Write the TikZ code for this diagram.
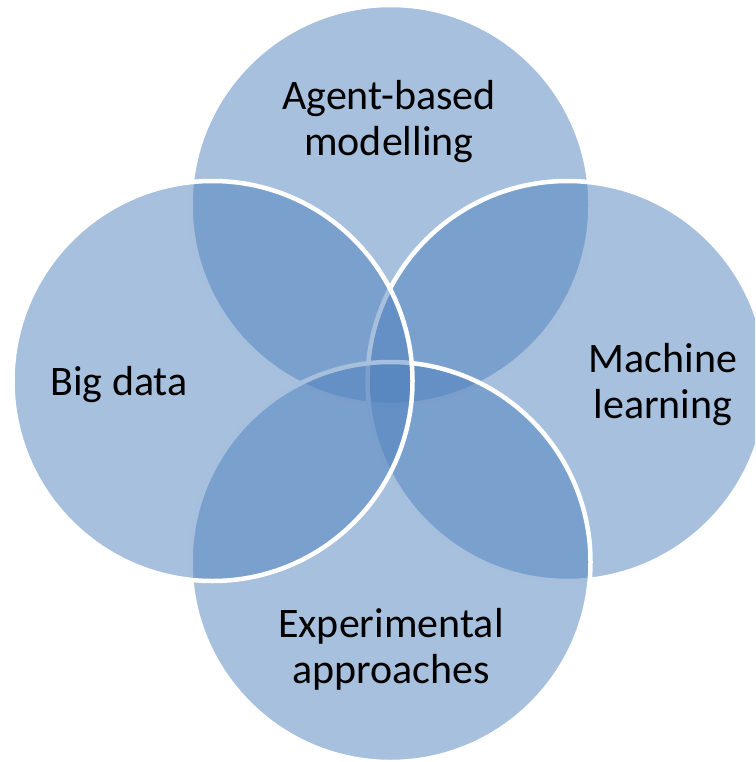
\documentclass[tikz,border=0pt]{standalone}
\usepackage{fontspec}
\setmainfont{Carlito}
\definecolor{vennblue}{HTML}{4F81BD}
\begin{document}
\begin{tikzpicture}[x=1pt,y=-1pt,
  venn/.style={circle,draw=white,line width=4.5pt,fill=vennblue,fill opacity=0.5,minimum size=400pt,inner sep=0pt},
  lbl/.style={align=center,font=\fontsize{42}{46}\selectfont}]
\clip (0,0) rectangle (755,762);
% circles, back to front
\node[venn] (abm) at (390.5,205) {};
\node[venn] (ml) at (567.5,381) {};
\node[venn] (exp) at (390.5,562) {};
\node[venn] (bd) at (212.5,381) {};
% labels
\node[lbl] (abmtext) at (389,122) {Agent-based\\modelling};
\node[lbl] (mltext) at (663,385) {Machine\\learning};
\node[lbl] (exptext) at (391,649) {Experimental\\approaches};
\node[lbl] (bdtext) at (119,384.5) {Big data};
\end{tikzpicture}
\end{document}
